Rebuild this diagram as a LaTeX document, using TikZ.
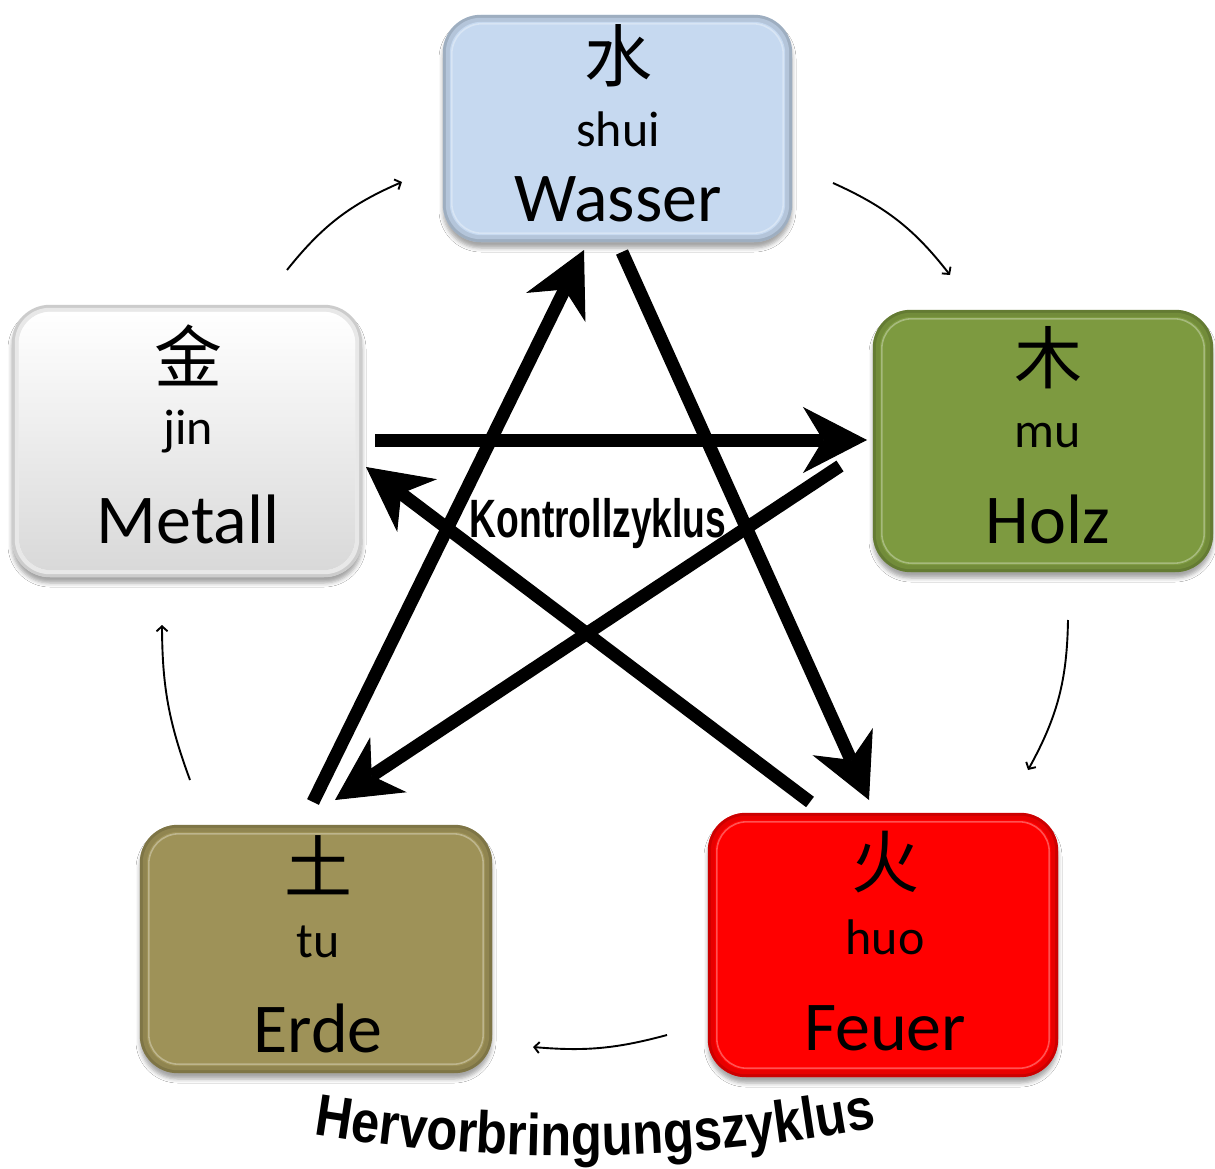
\documentclass[tikz,border=0pt]{standalone}
\usepackage{fontspec}
\setmainfont{Carlito}
\newfontfamily\cjk{Noto Sans CJK SC}
\newfontfamily\kfont[FakeStretch=0.69]{Liberation Sans}
\newfontfamily\hfont[FakeStretch=0.86]{Liberation Sans}
\usetikzlibrary{arrows.meta,shadows.blur,decorations.text}

\definecolor{wasserblue}{HTML}{C6D9F0}
\definecolor{holzgreen}{HTML}{7D9A40}
\definecolor{erdeolive}{HTML}{9E9258}
\definecolor{feuerred}{HTML}{FF0000}

% bevelled, glossy face of an element box
\newcommand\glossbox[2]{%
  \fill[#2!80!black, rounded corners=38pt] (#1.north west) rectangle (#1.south east);
  \fill[#2!91!black, rounded corners=35pt] ([shift={(3pt,-3pt)}]#1.north west) rectangle ([shift={(-3pt,3pt)}]#1.south east);
  \fill[#2, rounded corners=32pt] ([shift={(7pt,-7pt)}]#1.north west) rectangle ([shift={(-7pt,7pt)}]#1.south east);
  \draw[white, opacity=.32, line width=1.6pt, rounded corners=30pt] ([shift={(9pt,-9pt)}]#1.north west) rectangle ([shift={(-9pt,9pt)}]#1.south east);
}

\begin{document}
\begin{tikzpicture}[x=1pt,y=-1pt,
  elem/.style={rounded corners=38pt, inner sep=0pt,
    blur shadow={shadow xshift=0pt, shadow yshift=-6pt, shadow blur radius=4pt, shadow opacity=35}},
  zh/.style={font=\cjk\fontsize{68}{68}\selectfont, inner sep=0pt},
  py/.style={font=\fontsize{50}{50}\selectfont, anchor=base, inner sep=0pt},
  de/.style={font=\fontsize{70}{70}\selectfont, anchor=base, inner sep=0pt},
  kontroll/.style={draw, line width=13pt,
    -{Stealth[length=64pt, width=66pt, inset=20pt, line width=1pt]}},
  herv/.style={draw, line width=1.9pt,
    -{Straight Barb[length=5pt, width=11pt, line width=1.9pt]}}]

\useasboundingbox (0,0) rectangle (1215,1169);
\fill[white] (0,0) rectangle (1215,1169);

% ---------- element boxes ----------
\node[elem, fill=wasserblue, minimum width=349pt, minimum height=227pt] (wasser) at (617.5,128.5) {};
\glossbox{wasser}{wasserblue}
\node[elem, fill=white, minimum width=350pt, minimum height=272pt] (metall) at (187,441) {};
\glossbox{metall}{white}
\shade[top color=white, bottom color=black!15, rounded corners=32pt]
  ([shift={(7pt,-7pt)}]metall.north west) rectangle ([shift={(-7pt,7pt)}]metall.south east);
\node[elem, fill=holzgreen, minimum width=340pt, minimum height=262pt] (holz) at (1043,441) {};
\glossbox{holz}{holzgreen}
\node[elem, fill=erdeolive, minimum width=352pt, minimum height=248pt] (erde) at (316,949) {};
\glossbox{erde}{erdeolive}
\node[elem, fill=feuerred, minimum width=350pt, minimum height=264pt] (feuer) at (883,945) {};
\glossbox{feuer}{feuerred}

% ---------- labels ----------
\node[zh] (wasser-zh) at (618,56) {水};
\node[py] (wasser-py) at (618,147) {shui};
\node[de] (wasser-de) at (618,222) {Wasser};

\node[zh] (holz-zh) at (1048,358) {木};
\node[py] (holz-py) at (1048,447) {mu};
\node[de] (holz-de) at (1048,543) {Holz};

\node[zh] (metall-zh) at (188,355) {金};
\node[py] (metall-py) at (188,444) {jin};
\node[de] (metall-de) at (188,543) {Metall};

\node[zh] (erde-zh) at (318,865) {土};
\node[py] (erde-py) at (318,957) {tu};
\node[de] (erde-de) at (318,1052) {Erde};

\node[zh] (feuer-zh) at (885,862) {火};
\node[py] (feuer-py) at (885,954) {huo};
\node[de] (feuer-de) at (885,1050) {Feuer};

% ---------- control cycle (pentagram) ----------
\coordinate (k-mh-s) at (375,440);  \coordinate (k-mh-e) at (867,440);
\coordinate (k-he-s) at (840,466);  \coordinate (k-he-e) at (335,800);
\coordinate (k-ew-s) at (313,802);  \coordinate (k-ew-e) at (584,250);
\coordinate (k-wf-s) at (622,252);  \coordinate (k-wf-e) at (869,800);
\coordinate (k-fm-s) at (810,802);  \coordinate (k-fm-e) at (366,467);

\draw[kontroll] (k-mh-s) -- (k-mh-e);
\draw[kontroll] (k-he-s) -- (k-he-e);
\draw[kontroll] (k-ew-s) -- (k-ew-e);
\draw[kontroll] (k-wf-s) -- (k-wf-e);
\draw[kontroll] (k-fm-s) -- (k-fm-e);

\node[font=\kfont\bfseries\fontsize{54}{54}\selectfont, anchor=base, inner sep=0pt] (kontroll-label) at (598,537) {Kontrollzyklus};

% ---------- generating cycle ----------
\coordinate (h-mw-s) at (287,270);  \coordinate (h-mw-e) at (402,182);
\coordinate (h-wh-s) at (833,183);  \coordinate (h-wh-e) at (950,275);
\coordinate (h-hf-s) at (1068,620); \coordinate (h-hf-e) at (1028,770);
\coordinate (h-fe-s) at (667,1035); \coordinate (h-fe-e) at (533,1047);
\coordinate (h-em-s) at (190,780);  \coordinate (h-em-e) at (162,625);

\draw[herv] (h-mw-s) to[bend left=14] (h-mw-e);
\draw[herv] (h-wh-s) to[bend left=14] (h-wh-e);
\draw[herv] (h-hf-s) to[bend left=14] (h-hf-e);
\draw[herv] (h-fe-s) to[bend left=10] (h-fe-e);
\draw[herv] (h-em-s) to[bend left=10] (h-em-e);

\path[decorate, decoration={text along path, text align=center,
    text={|\hfont\bfseries\fontsize{59}{59}\selectfont|Hervorbringungszyklus}}]
  (298,1132) .. controls (495,1166) and (695,1164) .. (892,1124);

\end{tikzpicture}
\end{document}
